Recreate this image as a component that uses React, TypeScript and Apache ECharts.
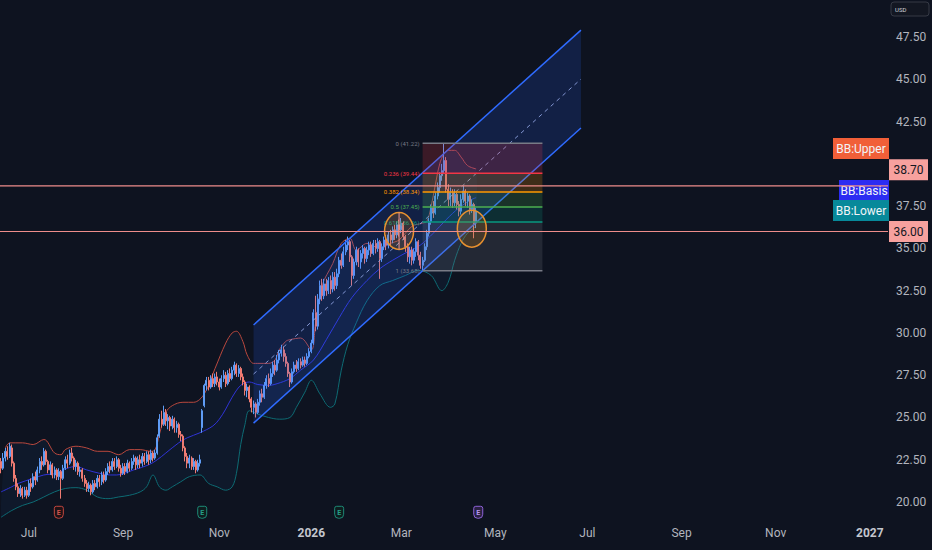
import React, { useEffect, useRef } from 'react';
import * as echarts from 'echarts';

// ---------- data ----------
const START_DATE = '2025-06-12';
const BAR_COUNT = 415;
const MONTHS = ['Jan', 'Feb', 'Mar', 'Apr', 'May', 'Jun', 'Jul', 'Aug', 'Sep', 'Oct', 'Nov', 'Dec'];

const Y_MIN = 17.5;
const Y_MAX = 50;
const Y_STEP = 2.5;
// tick label hidden behind the 38.70 price box in the reference
const Y_HIDDEN_TICKS = [40];

// [open, close, low, high] per trading day starting at START_DATE
const candles: number[][] = [
  [22.4, 22.0, 21.7, 22.6], [22.0, 22.6, 21.9, 22.9], [22.6, 23.0, 22.4, 23.2], [23.0, 22.7, 22.5, 23.3], [22.7, 23.3, 22.6, 23.5],
  [23.2, 22.3, 22.1, 23.4], [22.3, 21.4, 21.2, 22.4], [21.4, 20.9, 20.7, 21.6], [20.9, 20.5, 20.3, 21.1], [20.5, 20.8, 20.3, 21.0],
  [20.8, 20.4, 20.2, 20.9], [20.4, 20.7, 20.3, 20.9], [20.7, 20.4, 20.2, 20.9], [20.4, 21.1, 20.3, 21.3], [21.1, 20.9, 20.6, 21.4],
  [20.9, 21.5, 20.8, 21.7], [21.5, 21.3, 21.0, 21.8], [21.3, 21.9, 21.2, 22.1], [21.9, 22.4, 21.7, 22.6], [22.4, 22.2, 21.9, 22.7],
  [22.2, 23.0, 22.1, 23.2], [23.0, 22.4, 22.2, 23.1], [22.4, 21.9, 21.7, 22.5], [21.9, 22.2, 21.6, 22.4], [22.2, 21.6, 21.4, 22.3],
  [21.6, 21.9, 21.4, 22.1], [21.9, 21.5, 21.3, 22.0], [21.5, 21.8, 21.3, 22.0], [21.8, 21.4, 20.2, 21.9], [21.4, 22.0, 21.3, 22.2],
  [22.0, 22.5, 21.9, 22.7], [22.5, 22.3, 22.0, 22.8], [22.3, 22.9, 22.2, 23.1], [22.9, 22.6, 22.4, 23.2], [22.6, 22.1, 21.9, 22.7],
  [22.1, 22.3, 21.8, 22.5], [22.3, 21.8, 21.6, 22.4], [21.8, 21.9, 21.5, 22.1], [21.9, 21.4, 21.2, 22.0], [21.4, 21.1, 20.9, 21.6],
  [21.1, 20.8, 20.6, 21.3], [20.8, 21.0, 20.6, 21.2], [21.0, 20.6, 20.4, 21.1], [20.6, 21.1, 20.5, 21.3], [21.1, 20.9, 20.7, 21.3],
  [20.9, 21.4, 20.8, 21.6], [21.4, 21.2, 20.9, 21.6], [21.2, 21.6, 21.0, 21.8], [21.6, 21.3, 21.1, 21.8], [21.3, 21.8, 21.2, 22.0],
  [21.8, 22.1, 21.6, 22.3], [22.1, 21.9, 21.7, 22.4], [21.9, 22.4, 21.8, 22.6], [22.4, 22.1, 21.9, 22.6], [22.1, 22.5, 22.0, 22.7],
  [22.5, 22.0, 21.8, 22.6], [22.0, 21.7, 21.5, 22.2], [21.7, 22.1, 21.6, 22.3], [22.1, 21.8, 21.6, 22.3], [21.8, 22.3, 21.7, 22.5],
  [22.3, 22.0, 21.8, 22.4], [22.0, 22.4, 21.9, 22.6], [22.4, 22.6, 22.2, 22.8], [22.6, 22.2, 21.9, 22.7], [22.2, 22.5, 22.0, 22.7],
  [22.5, 22.3, 22.0, 22.8], [22.3, 22.7, 22.1, 22.9], [22.7, 22.4, 22.2, 22.9], [22.4, 22.8, 22.3, 23.0], [22.8, 22.5, 22.2, 23.0],
  [22.5, 22.9, 22.3, 23.1], [22.9, 22.6, 22.4, 23.0], [22.6, 22.9, 22.5, 23.1], [22.9, 23.8, 22.8, 24.0], [23.9, 24.9, 23.8, 25.2],
  [24.9, 24.6, 24.4, 25.4], [24.6, 25.3, 24.5, 25.7], [25.3, 24.8, 24.5, 25.5], [24.8, 25.0, 24.3, 25.2], [25.0, 24.5, 24.2, 25.1],
  [24.5, 24.9, 24.3, 25.1], [24.9, 24.4, 24.1, 25.0], [24.4, 24.6, 24.1, 24.8], [24.6, 24.0, 23.8, 24.7], [24.0, 23.9, 23.6, 24.2],
  [23.9, 23.2, 23.0, 24.0], [23.2, 22.7, 22.4, 23.3], [22.7, 22.3, 22.0, 22.9], [22.3, 22.6, 22.0, 22.8], [22.6, 22.1, 21.9, 22.7],
  [22.1, 22.4, 21.9, 22.6], [22.4, 21.9, 21.7, 22.5], [21.9, 22.3, 21.8, 22.5], [22.3, 22.5, 22.1, 22.8], [24.4, 25.4, 24.1, 25.5],
  [25.7, 26.9, 25.6, 27.0], [26.9, 27.2, 26.6, 27.4], [27.2, 26.8, 26.6, 27.4], [26.8, 27.3, 26.7, 27.5], [27.3, 27.0, 26.8, 27.6],
  [27.0, 27.4, 26.8, 27.6], [27.4, 27.1, 26.9, 27.7], [27.1, 26.8, 26.6, 27.3], [26.8, 27.3, 26.7, 27.5], [27.3, 27.5, 27.1, 27.8],
  [27.5, 27.0, 26.8, 27.7], [27.0, 27.6, 26.9, 27.8], [27.6, 27.3, 27.1, 27.9], [27.3, 27.8, 27.2, 28.0], [27.8, 28.1, 27.5, 28.3],
  [28.1, 27.6, 27.4, 28.2], [27.6, 27.9, 27.4, 28.1], [27.9, 27.4, 27.2, 28.0], [27.4, 27.1, 26.9, 27.6], [27.1, 26.6, 26.3, 27.2],
  [26.6, 26.8, 26.2, 27.0], [26.8, 26.1, 25.9, 26.9], [26.1, 25.6, 25.3, 26.2], [25.6, 25.8, 25.2, 26.0], [25.8, 25.3, 25.0, 25.9],
  [25.3, 25.9, 25.2, 26.1], [25.9, 26.4, 25.7, 26.6], [26.4, 26.2, 25.9, 26.7], [26.2, 26.9, 26.1, 27.1], [26.9, 27.3, 26.7, 27.5],
  [27.3, 27.0, 26.8, 27.6], [27.0, 27.6, 26.9, 27.9], [27.6, 28.1, 27.4, 28.3], [28.1, 27.8, 27.5, 28.4], [27.8, 28.4, 27.7, 28.7],
  [28.4, 28.8, 28.2, 29.0], [28.8, 29.0, 28.6, 29.3], [29.0, 28.6, 28.3, 29.2], [28.6, 28.2, 28.0, 28.8], [28.2, 27.6, 27.4, 28.3],
  [27.6, 27.1, 26.8, 27.7], [27.1, 27.7, 27.0, 27.9], [27.7, 28.1, 27.6, 28.3], [28.1, 27.9, 27.7, 28.4], [27.9, 28.3, 27.8, 28.5],
  [28.3, 28.1, 27.9, 28.5], [28.1, 28.4, 28.0, 28.6], [28.4, 28.2, 28.0, 28.6], [28.2, 28.6, 28.1, 28.8], [28.6, 28.9, 28.5, 29.1],
  [28.9, 29.4, 28.8, 29.6], [29.4, 31.2, 29.3, 31.4], [31.2, 30.4, 30.1, 32.2], [30.4, 32.0, 30.2, 32.3], [32.0, 32.8, 31.7, 33.1],
  [32.8, 32.2, 31.9, 33.2], [32.2, 32.9, 32.0, 33.2], [32.9, 32.5, 32.2, 33.2], [32.5, 33.1, 32.3, 33.3], [33.1, 32.6, 32.3, 33.4],
  [32.6, 33.3, 32.4, 33.6], [33.3, 32.8, 32.5, 33.6], [32.8, 33.5, 32.6, 33.8], [33.5, 34.3, 33.3, 34.5], [34.3, 34.0, 33.8, 34.7],
  [34.0, 34.8, 33.9, 35.1], [34.8, 35.2, 34.6, 35.5], [35.2, 35.4, 34.9, 35.7], [35.4, 34.5, 34.2, 35.5], [34.5, 33.4, 32.8, 34.6],
  [33.4, 34.2, 33.2, 34.4], [34.2, 34.9, 34.0, 35.1], [34.9, 34.2, 33.9, 35.0], [34.2, 34.7, 33.8, 34.9], [34.7, 35.0, 34.4, 35.2],
  [35.0, 34.4, 34.1, 35.1], [34.4, 34.9, 34.2, 35.1], [34.9, 35.2, 34.6, 35.4], [35.2, 34.7, 34.5, 35.4], [34.7, 35.3, 34.6, 35.5],
  [35.3, 35.0, 34.7, 35.5], [35.0, 35.4, 34.8, 35.6], [35.4, 34.4, 33.2, 35.5], [34.4, 35.1, 34.2, 35.3], [35.1, 35.5, 34.9, 35.7],
  [35.5, 35.2, 34.9, 35.8], [35.2, 35.8, 35.0, 36.0], [35.8, 35.5, 35.2, 36.1], [35.5, 36.1, 35.3, 36.3], [36.1, 35.8, 35.5, 36.4],
  [35.8, 36.4, 35.6, 36.6], [36.4, 36.1, 35.7, 36.7], [36.1, 36.5, 35.9, 36.8], [36.5, 35.7, 35.5, 36.6], [35.7, 35.1, 34.8, 35.8],
  [35.1, 34.5, 34.2, 35.3], [34.5, 34.9, 34.1, 35.1], [34.9, 34.3, 34.0, 35.1], [34.3, 34.8, 34.1, 35.0], [34.8, 35.4, 34.5, 35.6],
  [35.4, 34.6, 34.3, 35.5], [34.6, 34.0, 33.8, 34.8], [34.0, 34.3, 33.68, 34.5], [34.3, 35.1, 34.2, 35.3], [35.1, 35.9, 34.9, 36.1],
  [35.9, 36.6, 35.7, 36.8], [36.6, 37.4, 36.4, 37.6], [37.4, 37.1, 36.8, 37.8], [37.1, 38.1, 37.0, 38.3], [38.1, 38.6, 37.9, 38.9],
  [38.6, 39.3, 38.3, 39.5], [39.3, 39.6, 39.0, 40.0], [39.6, 40.2, 39.4, 41.22], [40.2, 38.5, 38.3, 40.4], [38.5, 37.9, 37.5, 38.8],
  [37.9, 38.3, 37.5, 38.6], [38.3, 37.7, 37.4, 38.5], [37.7, 38.2, 37.5, 38.5], [38.2, 37.6, 37.3, 38.3], [37.6, 37.2, 36.9, 37.8],
  [37.2, 37.9, 37.0, 38.2], [37.9, 38.4, 37.7, 38.7], [38.4, 37.8, 37.5, 38.5], [37.8, 38.1, 37.4, 38.3], [38.1, 37.3, 37.0, 38.2],
  [37.3, 37.6, 37.1, 37.9], [37.6, 36.4, 35.6, 37.7], [36.5, 37.2, 36.2, 37.4],
];

// Bollinger Bands (bar number -> price)
const upperBars = [2, 4, 10, 15, 20, 25, 28, 30, 35, 40, 45, 50, 55, 60, 65, 70, 72, 74, 77, 80, 85, 90, 95, 100, 105, 108, 110, 113, 115, 118, 120, 125, 128, 130, 133, 135, 140, 145, 147, 150, 155, 159, 163, 166, 171, 177, 182, 186, 192, 197, 199, 201, 203, 205, 207, 209, 212, 215, 218, 222];
const upperVals = [23.2, 23.5, 23.5, 23.4, 23.7, 22.9, 22.8, 23.1, 23.3, 23.2, 23.0, 23.0, 22.8, 23.1, 23.1, 23.0, 23.1, 24.0, 25.3, 25.7, 25.9, 25.9, 26.4, 27.9, 29.4, 30.0, 30.1, 29.5, 28.7, 28.2, 28.2, 28.2, 28.4, 29.0, 29.5, 29.6, 29.7, 29.0, 30.6, 32.8, 34.1, 35.3, 35.6, 34.9, 35.3, 35.0, 35.3, 35.5, 36.3, 36.5, 36.6, 37.5, 38.8, 40.0, 40.6, 40.8, 40.8, 40.4, 39.9, 39.7];
const basisBars = [0, 5, 8, 15, 20, 26, 31, 35, 40, 46, 51, 54, 62, 69, 73, 77, 83, 87, 93, 99, 102, 105, 108, 112, 116, 120, 125, 129, 135, 140, 146, 152, 158, 164, 171, 177, 183, 190, 196, 202, 208, 214, 220, 222];
const basisVals = [20.6, 20.9, 21.1, 21.4, 21.6, 21.7, 22.0, 22.1, 21.9, 21.7, 21.6, 21.6, 21.9, 22.2, 22.5, 22.9, 23.5, 23.8, 24.1, 24.5, 24.9, 25.5, 26.2, 26.9, 27.1, 26.95, 26.9, 27.0, 27.3, 27.8, 28.4, 29.6, 30.9, 32.1, 33.1, 33.8, 34.3, 34.8, 35.2, 35.9, 36.7, 37.4, 37.9, 38.0];
const lowerBars = [0, 5, 10, 15, 20, 25, 30, 35, 40, 45, 50, 55, 60, 65, 68, 71, 74, 77, 80, 84, 88, 93, 97, 101, 105, 108, 110, 112, 114, 116, 120, 125, 130, 135, 138, 142, 145, 149, 154, 156, 159, 162, 166, 171, 177, 183, 189, 195, 201, 206, 209, 212, 215, 218, 222];
const lowerVals = [19.1, 19.5, 19.8, 20.0, 20.3, 20.6, 20.8, 20.85, 20.7, 20.3, 20.2, 20.3, 20.4, 20.6, 20.9, 21.6, 20.9, 20.7, 20.9, 21.2, 21.5, 21.6, 21.1, 20.9, 20.7, 20.9, 21.7, 23.4, 24.6, 25.4, 25.2, 25.0, 24.9, 25.0, 25.6, 26.5, 27.2, 26.4, 25.6, 25.8, 27.8, 29.3, 30.6, 31.9, 32.8, 33.1, 33.4, 33.7, 33.4, 32.5, 33.0, 34.3, 35.3, 35.9, 36.3];

// Parallel channel anchors (bar number, prices)
const channelBars = [118, 271];
const channelUpper = [30.47, 47.91];
const channelLower = [24.67, 42.12];

// Fibonacci retracement
const fibBars = [197, 253];
const fibLevels = ['0', '0.236', '0.382', '0.5', '0.618', '1'];
const fibPrices = [41.22, 39.44, 38.34, 37.45, 36.56, 33.68];
const fibColors = ['#787b86', '#f23645', '#ff9800', '#4caf50', '#089981', '#787b86'];

// Ellipse markers
const circleBars = [186, 220];
const circlePrices = [36.03, 36.17];

// Horizontal levels
const hLevels = [38.7, 36.0];

// Earnings events
const earningsDates = ['2025-07-21', '2025-10-22', '2026-01-20', '2026-04-21'];
const earningsKinds = [0, 1, 1, 2];

// ---------- styling / layout ----------
const FONT = 'Roboto, "Noto Sans", sans-serif';
const BG = '#0e1320';
const UP = '#5f9cf5';
const DOWN = '#ef7b72';
const LEVEL_COLOR = '#ee8d8b';
const PRICE_BOX_SHIFT = [-16, 0];
const EARN_STYLE = [
  { line: '#c2463f', bg: '#1f1216', text: '#d0544c' },
  { line: '#1d8a76', bg: '#0e1d1f', text: '#25a08a' },
  { line: '#8e62d8', bg: '#2a2142', text: '#b596f0' },
];
const BB_LABELS = [
  { text: 'BB:Upper', color: '#f15f38', x: 833, y: 138, w: 56 },
  { text: 'BB:Basis', color: '#2c2cf2', x: 839, y: 180, w: 50 },
  { text: 'BB:Lower', color: '#07899a', x: 833, y: 200, w: 56 },
];

function buildDates(): string[] {
  const out: string[] = [];
  const [y, m, d] = START_DATE.split('-').map(Number);
  const cur = new Date(Date.UTC(y, m - 1, d));
  while (out.length < BAR_COUNT) {
    const wd = cur.getUTCDay();
    if (wd !== 0 && wd !== 6) out.push(cur.toISOString().slice(0, 10));
    cur.setUTCDate(cur.getUTCDate() + 1);
  }
  return out;
}

function buildOption() {
  const dates = buildDates();
  const labelIdx = new Set<number>();
  dates.forEach((s, i) => {
    const mo = Number(s.slice(5, 7));
    if (i > 0 && mo % 2 === 1 && dates[i - 1].slice(5, 7) !== s.slice(5, 7)) labelIdx.add(i);
  });

  const pairs = (bars: number[], vals: number[]) => bars.map((b, k) => [b, vals[k]]);

  const bbLine = (name: string, bars: number[], vals: number[], color: string) => ({
    name,
    type: 'line',
    data: pairs(bars, vals),
    smooth: 0.35,
    symbol: 'none',
    z: 2,
    lineStyle: { color, width: 1 },
    silent: true,
  });

  return {
    animation: false,
    backgroundColor: BG,
    textStyle: { fontFamily: FONT },
    grid: { left: 0, right: 44, top: -5.2, bottom: 5.7, containLabel: false, outerBoundsMode: 'none' },
    xAxis: {
      type: 'category',
      data: dates,
      boundaryGap: true,
      offset: -22.3,
      axisLine: { show: false, onZero: false },
      axisTick: { show: false },
      splitLine: { show: false },
      axisLabel: {
        interval: (i: number) => labelIdx.has(i),
        formatter: (v: string) => {
          const mo = Number(v.slice(5, 7));
          return mo === 1 ? `{yr|${v.slice(0, 4)}}` : MONTHS[mo - 1];
        },
        color: '#b2b5be',
        fontSize: 12,
        margin: 5,
        fontFamily: FONT,
        rich: { yr: { fontWeight: 'bold', color: '#c3c6ce', fontSize: 12, fontFamily: FONT } },
      },
    },
    yAxis: {
      type: 'value',
      position: 'right',
      min: Y_MIN,
      max: Y_MAX,
      interval: Y_STEP,
      splitLine: { show: false },
      axisLine: { show: false },
      axisTick: { show: false },
      axisLabel: {
        color: '#b2b5be',
        fontSize: 12,
        margin: 8,
        fontFamily: FONT,
        showMinLabel: false,
        showMaxLabel: false,
        formatter: (v: number) => (Y_HIDDEN_TICKS.includes(v) ? '' : v.toFixed(2)),
      },
    },
    graphic: [
      ...BB_LABELS.map((l) => ({
        type: 'group',
        z: 100,
        children: [
          { type: 'rect', shape: { x: l.x, y: l.y, width: l.w, height: 21 }, style: { fill: l.color } },
          {
            type: 'text',
            style: { x: l.x + l.w / 2, y: l.y + 11, text: l.text, fill: '#f2f4f8', fontSize: 12, fontFamily: FONT, align: 'center', verticalAlign: 'middle' },
          },
        ],
      })),
      {
        type: 'group',
        z: 100,
        children: [
          { type: 'rect', shape: { x: 891, y: 2, width: 38, height: 14, r: 3 }, style: { fill: '#131722', stroke: '#363a45', lineWidth: 1 } },
          { type: 'text', style: { x: 895, y: 9.5, text: 'USD', fill: '#d1d4dc', fontSize: 6, fontFamily: FONT, verticalAlign: 'middle' } },
        ],
      },
    ],
    series: [
      // Bollinger fill
      {
        type: 'custom',
        z: 1,
        silent: true,
        data: [[upperBars[0], upperVals[0]]],
        renderItem: (_p: any, api: any) => {
          const pts: number[][] = [];
          upperBars.forEach((b, k) => pts.push(api.coord([b, upperVals[k]])));
          for (let k = lowerBars.length - 1; k >= 0; k--) pts.push(api.coord([lowerBars[k], lowerVals[k]]));
          return { type: 'polygon', shape: { points: pts, smooth: 0.2 }, style: { fill: 'rgba(33,150,243,0.055)' } };
        },
      },
      bbLine('BB Upper', upperBars, upperVals, '#b9483e'),
      bbLine('BB Basis', basisBars, basisVals, '#2f33d6'),
      bbLine('BB Lower', lowerBars, lowerVals, '#0d6b74'),
      // candles
      {
        type: 'candlestick',
        z: 3,
        data: candles,
        barWidth: 1.5,
        silent: true,
        itemStyle: { color: UP, color0: DOWN, borderColor: UP, borderColor0: DOWN, borderWidth: 1 },
      },
      // parallel channel
      {
        type: 'custom',
        z: 4,
        silent: true,
        data: [[channelBars[0], channelUpper[0]]],
        renderItem: (_p: any, api: any) => {
          const ul = api.coord([channelBars[0], channelUpper[0]]);
          const ur = api.coord([channelBars[1], channelUpper[1]]);
          const ll = api.coord([channelBars[0], channelLower[0]]);
          const lr = api.coord([channelBars[1], channelLower[1]]);
          const ml = [(ul[0] + ll[0]) / 2, (ul[1] + ll[1]) / 2];
          const mr = [(ur[0] + lr[0]) / 2, (ur[1] + lr[1]) / 2];
          return {
            type: 'group',
            children: [
              { type: 'polygon', shape: { points: [ul, ur, lr, ll] }, style: { fill: 'rgba(41,98,255,0.17)' } },
              { type: 'line', shape: { x1: ul[0], y1: ul[1], x2: ur[0], y2: ur[1] }, style: { stroke: '#2f6bff', lineWidth: 1.5 } },
              { type: 'line', shape: { x1: ll[0], y1: ll[1], x2: lr[0], y2: lr[1] }, style: { stroke: '#2f6bff', lineWidth: 1.5 } },
              { type: 'line', shape: { x1: ml[0], y1: ml[1], x2: mr[0], y2: mr[1] }, style: { stroke: 'rgba(150,170,235,0.85)', lineWidth: 1, lineDash: [4, 4] } },
            ],
          };
        },
      },
      // fibonacci
      {
        type: 'custom',
        z: 5,
        silent: true,
        data: [[fibBars[0], fibPrices[0]]],
        renderItem: (_p: any, api: any) => {
          const children: any[] = [];
          for (let k = 0; k < fibPrices.length - 1; k++) {
            const a = api.coord([fibBars[0], fibPrices[k]]);
            const b = api.coord([fibBars[1], fibPrices[k + 1]]);
            const c = echarts.color.modifyAlpha(fibColors[k + 1], 0.2);
            children.push({ type: 'rect', shape: { x: a[0], y: a[1], width: b[0] - a[0], height: b[1] - a[1] }, style: { fill: c } });
          }
          fibPrices.forEach((p, k) => {
            const a = api.coord([fibBars[0], p]);
            const b = api.coord([fibBars[1], p]);
            children.push({ type: 'line', shape: { x1: a[0], y1: a[1], x2: b[0], y2: b[1] }, style: { stroke: fibColors[k], lineWidth: 1.5 } });
            children.push({
              type: 'text',
              style: { x: a[0] - 3, y: a[1], text: `${fibLevels[k]} (${p.toFixed(2)})`, fill: fibColors[k], fontSize: 6, fontFamily: FONT, align: 'right', verticalAlign: 'middle' },
            });
          });
          return { type: 'group', children };
        },
      },
      // ellipses
      {
        type: 'custom',
        z: 6,
        silent: true,
        data: circleBars.map((b, k) => [b, circlePrices[k]]),
        renderItem: (p: any, api: any) => {
          const c = api.coord([api.value(0), api.value(1)]);
          const children: any[] = [
            { type: 'ellipse', shape: { cx: c[0], cy: c[1], rx: 14.5, ry: 18.5 }, style: { fill: 'rgba(255,152,0,0.16)', stroke: '#e8912f', lineWidth: 1.5 } },
          ];
          if (p.dataIndex === 0) {
            children.push({ type: 'line', shape: { x1: c[0], y1: c[1] - 18.5, x2: c[0], y2: c[1] + 18.5 }, style: { stroke: '#f29b96', lineWidth: 1 } });
          }
          return { type: 'group', children };
        },
      },
      // earnings badges
      {
        type: 'custom',
        z: 6,
        silent: true,
        data: earningsDates.map((d, k) => [dates.indexOf(d), earningsKinds[k]]),
        renderItem: (p: any, api: any) => {
          const cs = p.coordSys;
          const x = api.coord([api.value(0), Y_MIN])[0];
          const y = cs.y + cs.height - 32;
          const s = EARN_STYLE[api.value(1)];
          return {
            type: 'group',
            children: [
              { type: 'rect', shape: { x: x - 4.5, y: y - 6, width: 9, height: 12, r: [2, 2, 4, 4] }, style: { fill: s.bg, stroke: s.line, lineWidth: 1 } },
              { type: 'text', style: { x, y: y + 0.5, text: 'E', fill: s.text, fontSize: 7, fontWeight: 'bold', fontFamily: FONT, align: 'center', verticalAlign: 'middle' } },
            ],
          };
        },
      },
      // horizontal levels with price boxes
      {
        type: 'custom',
        z: 10,
        silent: true,
        data: hLevels.map((v) => [0, v]),
        renderItem: (p: any, api: any) => {
          const cs = p.coordSys;
          const v = api.value(1);
          const y = api.coord([0, v])[1];
          const shift = PRICE_BOX_SHIFT[p.dataIndex];
          const bx = cs.x + cs.width + 1;
          return {
            type: 'group',
            children: [
              { type: 'line', shape: { x1: cs.x, y1: y, x2: cs.x + cs.width, y2: y }, style: { stroke: LEVEL_COLOR, lineWidth: 1.2 } },
              { type: 'rect', shape: { x: bx, y: y + shift - 10.5, width: 39, height: 21 }, style: { fill: '#f7a19e' } },
              {
                type: 'text',
                style: { x: bx + 19.5, y: y + shift + 0.5, text: v.toFixed(2), fill: '#131722', fontSize: 12, fontFamily: FONT, align: 'center', verticalAlign: 'middle' },
              },
            ],
          };
        },
      },
    ],
  };
}

export default function App() {
  const ref = useRef<HTMLDivElement>(null);
  useEffect(() => {
    const chart = echarts.init(ref.current as HTMLDivElement, null, { renderer: 'svg' });
    chart.setOption(buildOption() as any);
    return () => chart.dispose();
  }, []);
  return <div ref={ref} style={{ position: 'fixed', left: 0, top: 0, width: 932, height: 550 }} />;
}
